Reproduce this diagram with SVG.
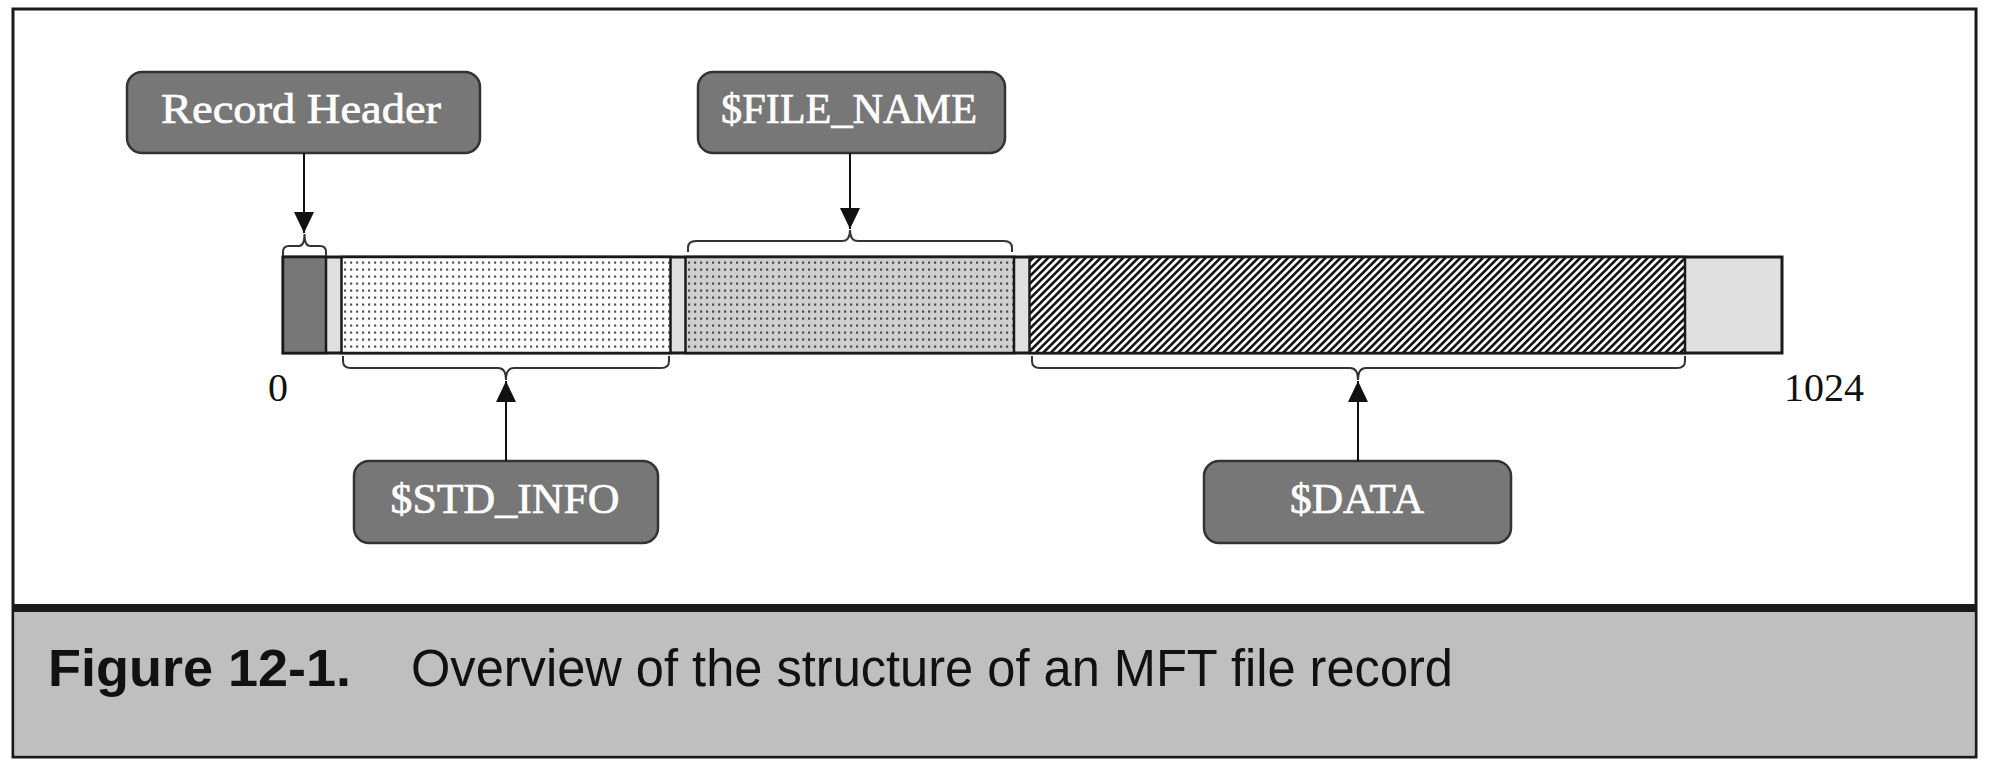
<svg xmlns="http://www.w3.org/2000/svg" width="2000" height="772" viewBox="0 0 2000 772">
<style>
.box{fill:#777777;stroke:#333333;stroke-width:2.5}
.lbl{font-family:"Liberation Serif","Times New Roman",serif;font-size:43px;fill:#ffffff;stroke:#ffffff;stroke-width:0.7;text-anchor:middle}
.num{font-family:"Liberation Serif","Times New Roman",serif;font-size:40px;fill:#111111}
.seg{stroke:#1a1a1a;stroke-width:2.5}
.brace{fill:none;stroke:#333333;stroke-width:2}
.conn{stroke:#111111;stroke-width:2;fill:none}
.cap{font-family:"Liberation Sans",Arial,sans-serif;font-size:51px;fill:#111111}
</style>
<defs>
<pattern id="dots" patternUnits="userSpaceOnUse" width="6" height="7" x="342" y="259">
<rect width="6" height="7" fill="#ffffff"/>
<rect x="2" y="2.5" width="2.2" height="2.2" fill="#555555"/>
</pattern>
<pattern id="dots2" patternUnits="userSpaceOnUse" width="6" height="7" x="686" y="259">
<rect width="6" height="7" fill="#d0d0d0"/>
<rect x="2" y="2.5" width="2.2" height="2.2" fill="#4a4a4a"/>
</pattern>
<pattern id="hatch" patternUnits="userSpaceOnUse" width="5.3" height="10" patternTransform="rotate(45)">
<rect width="5.3" height="10" fill="#ffffff"/>
<rect x="0" y="0" width="2.6" height="10" fill="#111111"/>
</pattern>
<marker id="arr" markerUnits="userSpaceOnUse" viewBox="0 0 21 20" markerWidth="21" markerHeight="20" refX="21" refY="10" orient="auto">
<path d="M0,0 L21,10 L0,20 z" fill="#111111"/>
</marker>
</defs>

<!-- frame -->
<rect x="13" y="9" width="1963" height="748" fill="#ffffff" stroke="#1a1a1a" stroke-width="3"/>
<rect x="14.5" y="611" width="1960" height="144.5" fill="#bebfbe"/>
<rect x="13" y="604" width="1963" height="8" fill="#1a1a1a"/>
<text class="cap" x="48" y="686" font-weight="bold" textLength="303" lengthAdjust="spacingAndGlyphs">Figure 12-1.</text>
<text class="cap" x="411" y="686" textLength="1042" lengthAdjust="spacingAndGlyphs">Overview of the structure of an MFT file record</text>

<!-- record bar -->
<g id="bar">
<rect x="283" y="257" width="1499" height="96" fill="#e0e0e0" stroke="#1a1a1a" stroke-width="3"/>
<rect class="seg" x="283" y="257" width="43" height="96" fill="#777777"/>
<rect class="seg" x="341.5" y="257" width="329" height="96" fill="url(#dots)"/>
<rect class="seg" x="685.5" y="257" width="328.5" height="96" fill="url(#dots2)"/>
<rect class="seg" x="1029.5" y="257" width="655.5" height="96" fill="url(#hatch)"/>
<text class="num" x="268" y="401">0</text>
<text class="num" x="1784" y="401">1024</text>
</g>

<!-- braces -->
<g id="braces">
<path class="brace" d="M283,256 L283,252 Q283,246 289,246 L299,246 Q304.5,246 304.5,234 Q304.5,246 310,246 L320,246 Q326,246 326,252 L326,256"/>
<path class="brace" d="M688,252 L688,248 Q688,241 696,241 L842,241 Q850,241 850,230 Q850,241 858,241 L1004,241 Q1012,241 1012,248 L1012,252"/>
<path class="brace" d="M343,356 L343,361 Q343,368 351,368 L498,368 Q506,368 506,380 Q506,368 514,368 L661,368 Q669,368 669,361 L669,356"/>
<path class="brace" d="M1032,356 L1032,361 Q1032,368 1040,368 L1350,368 Q1358,368 1358,380 Q1358,368 1366,368 L1677,368 Q1685,368 1685,361 L1685,356"/>
</g>

<!-- nodes -->
<g id="node-record-header">
<rect class="box" x="127" y="72" width="353" height="81" rx="15"/>
<text class="lbl" x="301" y="123" textLength="280" lengthAdjust="spacingAndGlyphs">Record Header</text>
</g>
<g id="node-file-name">
<rect class="box" x="698" y="72" width="307" height="81" rx="15"/>
<text class="lbl" x="849" y="123" textLength="256" lengthAdjust="spacingAndGlyphs">$FILE_NAME</text>
</g>
<g id="node-std-info">
<rect class="box" x="354" y="461" width="304" height="82" rx="15"/>
<text class="lbl" x="505" y="513" textLength="229" lengthAdjust="spacingAndGlyphs">$STD_INFO</text>
</g>
<g id="node-data">
<rect class="box" x="1204" y="461" width="307" height="82" rx="15"/>
<text class="lbl" x="1357" y="513" textLength="134" lengthAdjust="spacingAndGlyphs">$DATA</text>
</g>

<!-- connectors -->
<g id="connectors">
<line class="conn" x1="304" y1="153" x2="304" y2="233" marker-end="url(#arr)"/>
<line class="conn" x1="850" y1="153" x2="850" y2="229" marker-end="url(#arr)"/>
<line class="conn" x1="506" y1="461" x2="506" y2="381" marker-end="url(#arr)"/>
<line class="conn" x1="1358" y1="461" x2="1358" y2="381" marker-end="url(#arr)"/>
</g>
</svg>
